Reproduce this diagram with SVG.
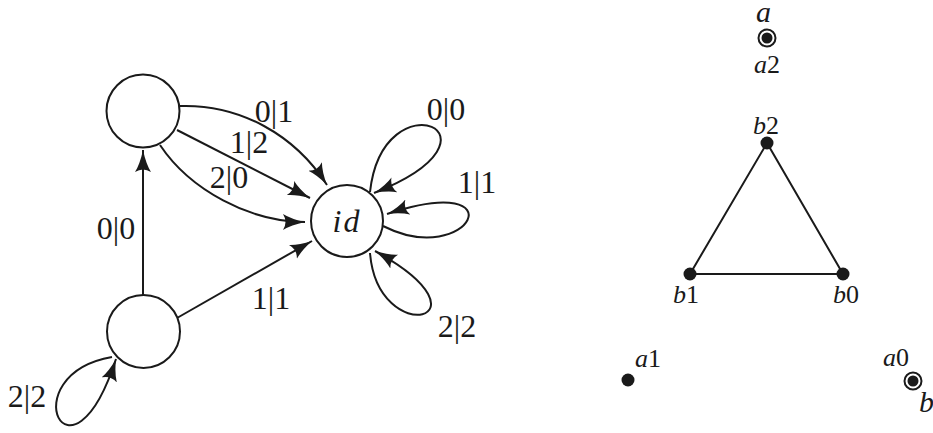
<svg xmlns="http://www.w3.org/2000/svg" width="933" height="433" viewBox="0 0 933 433">
<style>
.node{fill:#fff;stroke:#1a1a1a;stroke-width:2}
.edge{fill:none;stroke:#1a1a1a;stroke-width:2}
.tri{fill:none;stroke:#1a1a1a;stroke-width:2}
text{font-family:'Liberation Serif','DejaVu Serif',serif;fill:#1a1a1a}
.lbl{font-size:32px;text-anchor:middle}
.it{font-style:italic}
.small{font-size:26px}
.big{font-size:30px;font-style:italic}
.dot{fill:#1a1a1a}
.ring{fill:#fff;stroke:#1a1a1a;stroke-width:2}
</style>
<defs>
<marker id="arr" markerUnits="userSpaceOnUse" markerWidth="24" markerHeight="18" refX="22" refY="8" orient="auto">
<path d="M0,0 Q8,5 22,8 Q8,11 0,16 Q5,8 0,0 z" fill="#1a1a1a"/>
</marker>
</defs>
<g id="connectors">
<path class="edge" d="M143 295 L143 150" marker-end="url(#arr)"/>
<path class="edge" d="M177 318 L312 241" marker-end="url(#arr)"/>
<path class="edge" d="M180 106 C240 104 295 135 327 185" marker-end="url(#arr)"/>
<path class="edge" d="M177 130 L310 198" marker-end="url(#arr)"/>
<path class="edge" d="M160 145 C190 190 250 222 305 222" marker-end="url(#arr)"/>
<path class="edge" d="M370 192 C383 75 520 135 374 193" marker-end="url(#arr)"/>
<path class="edge" d="M383 226 C470 270 520 170 387 214" marker-end="url(#arr)"/>
<path class="edge" d="M370 253 C378 350 500 320 375 251" marker-end="url(#arr)"/>
<path class="edge" d="M112 357 C10 375 70 500 116 359" marker-end="url(#arr)"/>
</g>
<g id="labels">
<text class="lbl" x="274" y="122">0|1</text>
<text class="lbl" x="249" y="153">1|2</text>
<text class="lbl" x="229" y="188">2|0</text>
<text class="lbl" x="116" y="239">0|0</text>
<text class="lbl" x="271" y="309">1|1</text>
<text class="lbl" x="446" y="120">0|0</text>
<text class="lbl" x="477" y="193">1|1</text>
<text class="lbl" x="457" y="337">2|2</text>
<text class="lbl" x="27" y="407">2|2</text>
</g>
<g id="node-top">
<circle class="node" cx="143" cy="111" r="36.5"/>
</g>
<g id="node-bottom">
<circle class="node" cx="143.5" cy="331.5" r="36.5"/>
</g>
<g id="node-id">
<circle class="node" cx="347" cy="221" r="36"/>
<text class="lbl it" x="347" y="232" letter-spacing="2">id</text>
</g>
<g id="triangle">
<path class="tri" d="M767 143 L690 274 L843 274 Z"/>
</g>
<g id="pt-b2">
<circle class="dot" cx="767" cy="143" r="6.5"/>
<text class="small" x="753" y="134"><tspan font-style="italic">b</tspan>2</text>
</g>
<g id="pt-b1">
<circle class="dot" cx="690" cy="274" r="6.5"/>
<text class="small" x="673" y="303"><tspan font-style="italic">b</tspan>1</text>
</g>
<g id="pt-b0">
<circle class="dot" cx="843" cy="274" r="6.5"/>
<text class="small" x="833" y="303"><tspan font-style="italic">b</tspan>0</text>
</g>
<g id="pt-a2">
<circle class="ring" cx="767" cy="38" r="8.5"/>
<circle class="dot" cx="767" cy="38" r="5.5"/>
<text class="small" x="754" y="73"><tspan font-style="italic">a</tspan>2</text>
<text class="big" x="756" y="22">a</text>
</g>
<g id="pt-a1">
<circle class="dot" cx="628" cy="380" r="6.5"/>
<text class="small" x="635" y="367"><tspan font-style="italic">a</tspan>1</text>
</g>
<g id="pt-a0">
<circle class="ring" cx="913" cy="381" r="8.5"/>
<circle class="dot" cx="913" cy="381" r="5.5"/>
<text class="small" x="883" y="366"><tspan font-style="italic">a</tspan>0</text>
<text class="big" x="919" y="412">b</text>
</g>
</svg>
